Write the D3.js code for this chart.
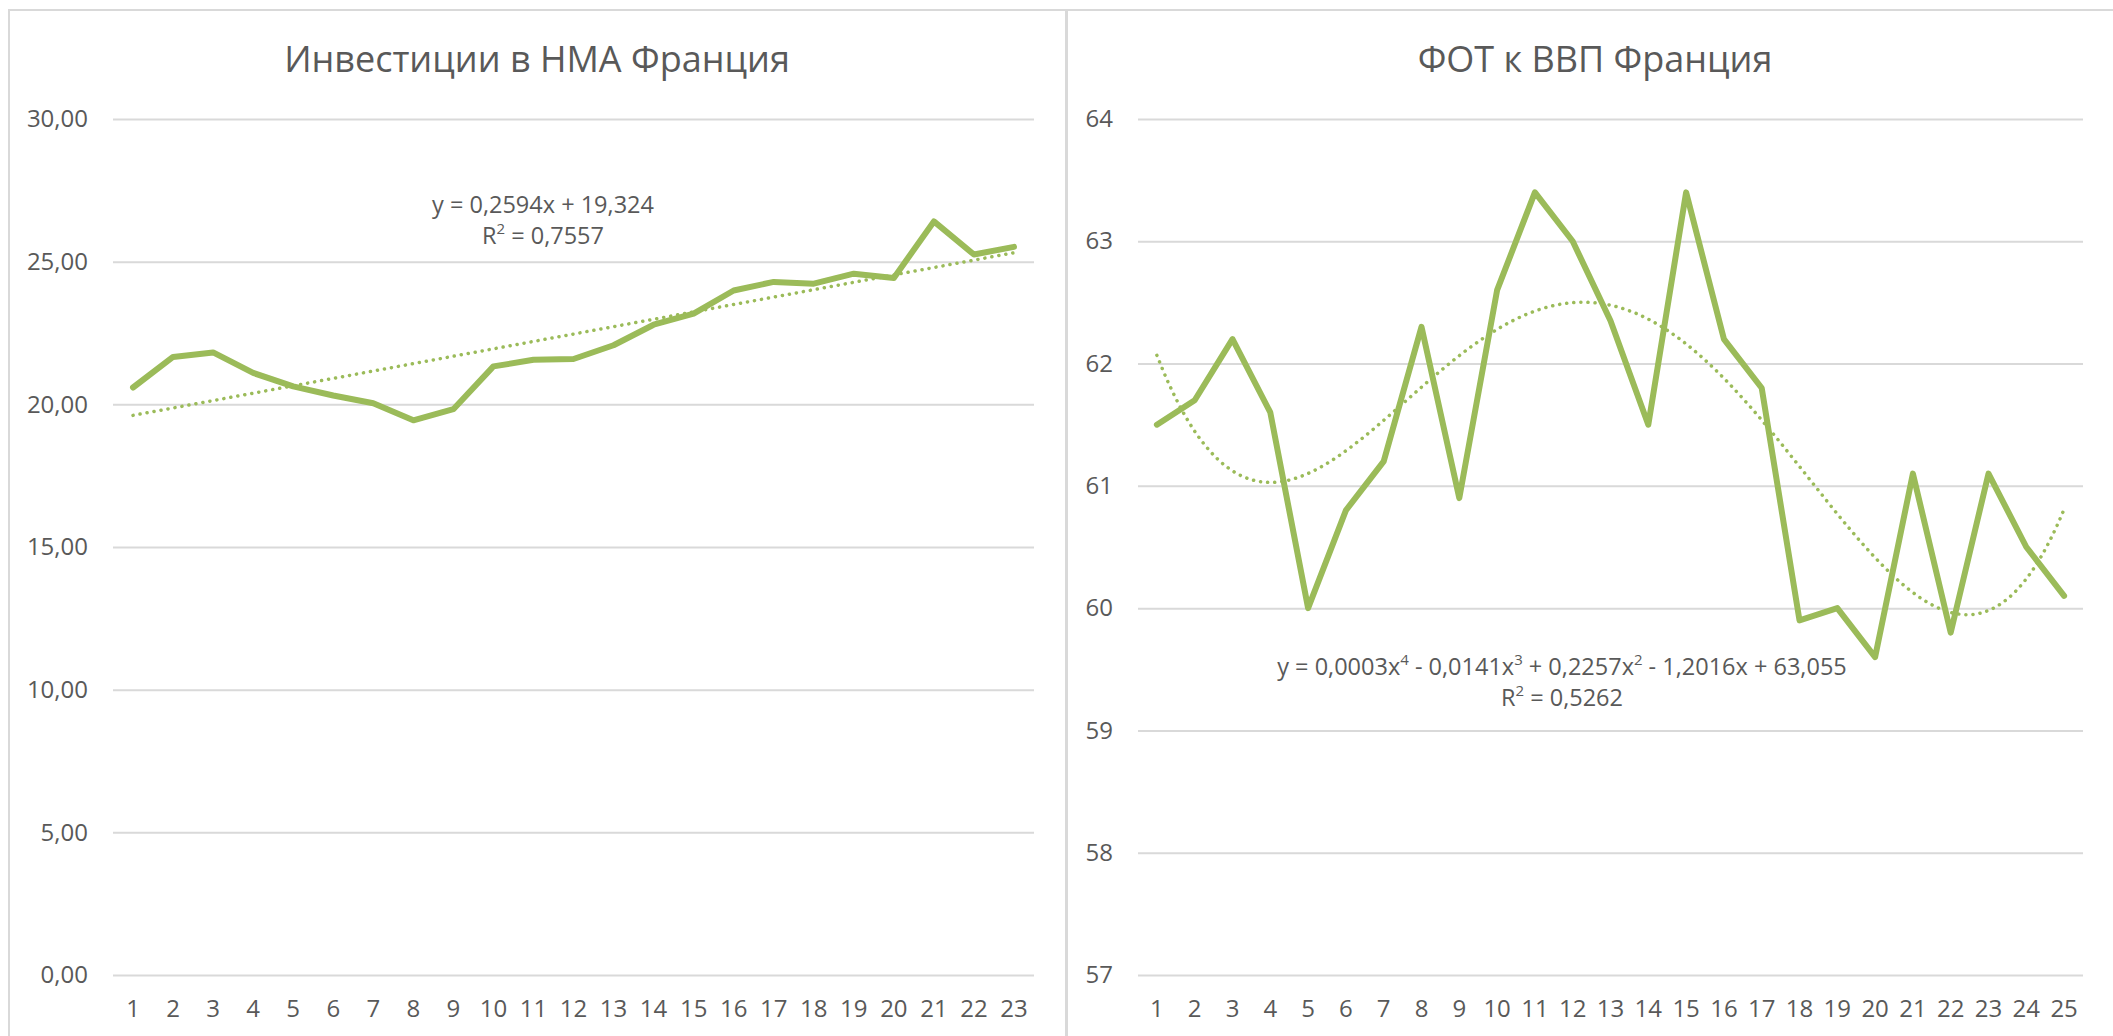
<!DOCTYPE html>
<html>
<head>
<meta charset="utf-8">
<script src="https://cdn.jsdelivr.net/npm/d3@7"></script>
<style>
  body { margin: 0; background: #fff; }
  svg { display: block; }
</style>
</head>
<body>
<svg width="2113" height="1036"></svg>
<script>
// --- left chart: Инвестиции в НМА
var invCats = [1, 2, 3, 4, 5, 6, 7, 8, 9, 10, 11, 12, 13, 14, 15, 16, 17, 18, 19, 20, 21, 22, 23];
var invValues = [20.59, 21.66, 21.82, 21.10, 20.63, 20.31, 20.04, 19.44, 19.83, 21.33, 21.56, 21.59,
                 22.07, 22.79, 23.18, 23.99, 24.29, 24.23, 24.58, 24.43, 26.41, 25.25, 25.52];
var invTicks = [0, 5, 10, 15, 20, 25, 30];
var invTitle = "Инвестиции в НМА Франция";
var invEquation = ["y = 0,2594x + 19,324", "R^2 = 0,7557"];

// --- right chart: ФОТ к ВВП
var fotCats = [1, 2, 3, 4, 5, 6, 7, 8, 9, 10, 11, 12, 13, 14, 15, 16, 17, 18, 19, 20, 21, 22, 23, 24, 25];
var fotValues = [61.5, 61.7, 62.2, 61.6, 60.0, 60.8, 61.2, 62.3, 60.9, 62.6, 63.4, 63.0, 62.35,
                 61.5, 63.4, 62.2, 61.8, 59.9, 60.0, 59.6, 61.1, 59.8, 61.1, 60.5, 60.1];
var fotTicks = [57, 58, 59, 60, 61, 62, 63, 64];
var fotTitle = "ФОТ к ВВП Франция";
var fotEquation = ["y = 0,0003x^4 - 0,0141x^3 + 0,2257x^2 - 1,2016x + 63,055", "R^2 = 0,5262"];

var green = "#9bbb59",
    grey = "#d9d9d9",
    textColor = "#595959",
    font = "'Open Sans', sans-serif";

var ru = d3.formatLocale({decimal: ",", thousands: " ", grouping: [3], currency: ["", ""]});

var svg = d3.select("svg");

// least squares polynomial, same as the excel trendline
function polyfit(xs, ys, deg) {
    var n = deg + 1, A = [], b = [];
    for (var i = 0; i < n; i++) {
        A.push([]);
        for (var j = 0; j < n; j++) A[i].push(d3.sum(xs, function(x) { return Math.pow(x, i + j); }));
        b.push(d3.sum(xs, function(x, k) { return ys[k] * Math.pow(x, i); }));
    }
    for (var c = 0; c < n; c++) {
        var p = c;
        for (var r = c + 1; r < n; r++) if (Math.abs(A[r][c]) > Math.abs(A[p][c])) p = r;
        var t = A[c]; A[c] = A[p]; A[p] = t;
        t = b[c]; b[c] = b[p]; b[p] = t;
        for (var r = c + 1; r < n; r++) {
            var f = A[r][c] / A[c][c];
            for (var k = c; k < n; k++) A[r][k] -= f * A[c][k];
            b[r] -= f * b[c];
        }
    }
    var coef = new Array(n);
    for (var i = n - 1; i >= 0; i--) {
        var s = b[i];
        for (var k = i + 1; k < n; k++) s -= A[i][k] * coef[k];
        coef[i] = s / A[i][i];
    }
    return coef;
}

function writeLabel(sel, str) {
    // "^d" -> raised small digit
    var parts = str.split(/\^(\d)/);
    parts.forEach(function(p, i) {
        if (!p) return;
        var sup = i % 2 == 1;
        var t = sel.append("tspan").text(p);
        if (sup) t.attr("font-size", 15).attr("dy", -10);
        else if (i > 0) t.attr("dy", 10);
    });
}

function drawChart(o) {
    var g = svg.append("g");

    g.append("rect")
        .attr("x", o.panel[0]).attr("y", 10)
        .attr("width", o.panel[1] - o.panel[0]).attr("height", 1100)
        .attr("fill", "none").attr("stroke", grey).attr("stroke-width", 2);

    var x = d3.scaleBand().domain(o.cats).range([o.left, o.right]),
        y = d3.scaleLinear().domain(d3.extent(o.ticks)).range([975, 119]);

    g.append("g")
        .attr("class", "y axis")
        .attr("transform", `translate(${o.left},0)`)
        .call(d3.axisLeft(y).tickValues(o.ticks).tickSize(-(o.right - o.left)).tickPadding(25).tickFormat(o.fmt))
        .call(function(a) { a.select(".domain").remove(); })
        .call(function(a) { a.selectAll("line").attr("stroke", grey).attr("stroke-width", 2); })
        .call(function(a) {
            a.selectAll("text").attr("fill", textColor).attr("font-size", 24).attr("font-family", font);
        });

    g.append("g")
        .attr("class", "x axis")
        .attr("transform", "translate(0,975)")
        .call(d3.axisBottom(x).tickSize(0).tickPadding(25))
        .call(function(a) { a.select(".domain").remove(); })
        .call(function(a) {
            a.selectAll("text").attr("fill", textColor).attr("font-size", 24).attr("font-family", font);
        });

    var cx = function(c) { return x(c) + x.bandwidth() / 2; };

    g.append("path")
        .datum(o.values)
        .attr("fill", "none")
        .attr("stroke", green)
        .attr("stroke-width", 6)
        .attr("stroke-linejoin", "round")
        .attr("stroke-linecap", "round")
        .attr("d", d3.line()
            .x(function(d, i) { return cx(o.cats[i]); })
            .y(function(d) { return y(d); }));

    // trendline
    var coef = polyfit(o.cats, o.values, o.degree),
        first = o.cats[0], last = o.cats[o.cats.length - 1],
        xt = d3.scaleLinear().domain([first, last]).range([cx(first), cx(last)]),
        pts = d3.range(first, last + 0.001, 0.1).map(function(t) {
            return [t, coef.reduce(function(s, c, k) { return s + c * Math.pow(t, k); }, 0)];
        });

    g.append("path")
        .datum(pts)
        .attr("fill", "none")
        .attr("stroke", green)
        .attr("stroke-width", 3.5)
        .attr("stroke-linecap", "round")
        .attr("stroke-dasharray", "0.1 7")
        .attr("d", d3.line().x(function(d) { return xt(d[0]); }).y(function(d) { return y(d[1]); }));

    // title
    g.append("text")
        .attr("x", o.titleX).attr("y", 72)
        .attr("text-anchor", "middle")
        .attr("fill", textColor)
        .attr("font-family", font)
        .attr("font-size", 36)
        .text(o.title);

    // equation label
    o.equation.forEach(function(line, i) {
        var t = g.append("text")
            .attr("x", o.eqPos[0]).attr("y", o.eqPos[1] + i * 31)
            .attr("text-anchor", "middle")
            .attr("fill", textColor)
            .attr("font-family", font)
            .attr("font-size", 23.5);
        writeLabel(t, line);
    });
}

drawChart({
    panel: [9, 1066], left: 113, right: 1034,
    cats: invCats, values: invValues, ticks: invTicks, fmt: ru.format(".2f"),
    degree: 1, title: invTitle, titleX: 537,
    equation: invEquation, eqPos: [543, 213]
});

drawChart({
    panel: [1067, 2130], left: 1138, right: 2083,
    cats: fotCats, values: fotValues, ticks: fotTicks, fmt: ru.format("d"),
    degree: 4, title: fotTitle, titleX: 1595,
    equation: fotEquation, eqPos: [1562, 675]
});
</script>
</body>
</html>
